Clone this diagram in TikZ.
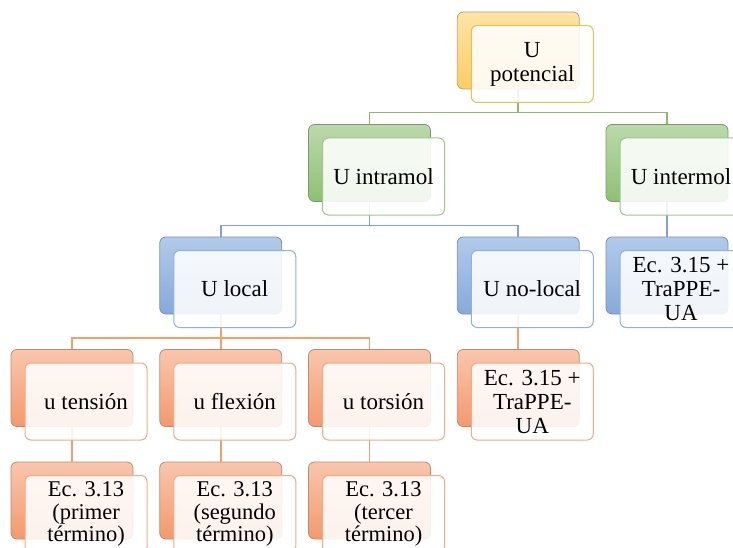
\documentclass[tikz,border=0pt]{standalone}
\usepackage{fontspec}
\setmainfont{Liberation Serif}
\definecolor{goldT}{HTML}{FFE3A6}
\definecolor{goldB}{HTML}{FFCC66}
\definecolor{goldE}{HTML}{B9A274}
\definecolor{goldF}{HTML}{E9C24E}
\definecolor{greenT}{HTML}{BCD9AC}
\definecolor{greenB}{HTML}{8DC173}
\definecolor{greenE}{HTML}{7C9873}
\definecolor{greenF}{HTML}{9DC889}
\definecolor{greenL}{HTML}{8DBB6C}
\definecolor{blueT}{HTML}{B2CAEA}
\definecolor{blueB}{HTML}{86AADB}
\definecolor{blueE}{HTML}{7D90AC}
\definecolor{blueF}{HTML}{8FB2DE}
\definecolor{blueL}{HTML}{7FA3D3}
\definecolor{orT}{HTML}{F9C6AD}
\definecolor{orB}{HTML}{F4996D}
\definecolor{orE}{HTML}{B98C7A}
\definecolor{orF}{HTML}{F4AA86}
\definecolor{orL}{HTML}{F2A06C}
\tikzset{
  backbox/.style={draw=#1E, line width=0.8pt, rounded corners=6pt,
    top color=#1T, bottom color=#1B, minimum width=122pt,
    minimum height=77pt, inner sep=0pt},
  frontbox/.style={draw=#1F, line width=1pt, rounded corners=6pt,
    fill=white, fill opacity=0.88, text opacity=1, text=black,
    minimum width=122pt, minimum height=77pt, inner sep=2pt,
    align=center, font=\fontsize{23}{24}\selectfont},
  tightbox/.style={frontbox=#1, font=\fontsize{22.5}{22.5}\selectfont},
  conn/.style={draw=#1, line width=1.6pt},
}
\begin{document}
\begin{tikzpicture}[x=1pt,y=-1pt]
\useasboundingbox (0,0) rectangle (733,548);
% back boxes
\node[backbox=gold]  (potb)   at (518.25,50.5) {};
\node[backbox=green] (intrab) at (369.5,163) {};
\node[backbox=green] (interb) at (667,163) {};
\node[backbox=blue]  (localb) at (220.75,275.5) {};
\node[backbox=blue]  (nolocb) at (518.25,275.5) {};
\node[backbox=blue]  (inteqb) at (667,275.5) {};
\node[backbox=or]    (tensb)  at (72,388) {};
\node[backbox=or]    (flexb)  at (220.75,388) {};
\node[backbox=or]    (torsb)  at (369.5,388) {};
\node[backbox=or]    (noleqb) at (518.25,388) {};
\node[backbox=or]    (ecab)   at (72,500.5) {};
\node[backbox=or]    (ecbb)   at (220.75,500.5) {};
\node[backbox=or]    (eccb)   at (369.5,500.5) {};
% bus levels
\coordinate (bus1) at (0,112.5);
\coordinate (bus2) at (0,225.5);
\coordinate (bus3) at (0,338);
% connectors
\draw[conn=greenL] (potb.south) -- (potb.south |- bus1) -| (intrab.north);
\draw[conn=greenL] (potb.south |- bus1) -| (interb.north);
\draw[conn=blueL] (intrab.south) -- (intrab.south |- bus2) -| (localb.north);
\draw[conn=blueL] (intrab.south |- bus2) -| (nolocb.north);
\draw[conn=blueL] (interb.south) -- (inteqb.north);
\draw[conn=orL] (localb.south) -- (localb.south |- bus3) -| (tensb.north);
\draw[conn=orL] (localb.south |- bus3) -| (flexb.north);
\draw[conn=orL] (localb.south |- bus3) -| (torsb.north);
\draw[conn=orL] (nolocb.south) -- (noleqb.north);
\draw[conn=orL] (tensb.south) -- (ecab.north);
\draw[conn=orL] (flexb.south) -- (ecbb.north);
\draw[conn=orL] (torsb.south) -- (eccb.north);
% front boxes
\node[frontbox=gold]  (pot)   at (532.25,64) {U\\potencial};
\node[frontbox=green] (intra) at (383.5,176.5) {U intramol};
\node[frontbox=green] (inter) at (681,176.5) {U intermol};
\node[frontbox=blue]  (local) at (234.75,289) {U local};
\node[frontbox=blue]  (noloc) at (532.25,289) {U no-local};
\node[frontbox=blue]  (inteq) at (681,289) {Ec. 3.15 +\\TraPPE-\\UA};
\node[frontbox=or]    (tens)  at (86,401.5) {u tensión};
\node[frontbox=or]    (flex)  at (234.75,401.5) {u flexión};
\node[frontbox=or]    (tors)  at (383.5,401.5) {u torsión};
\node[frontbox=or]    (noleq) at (532.25,401.5) {Ec. 3.15 +\\TraPPE-\\UA};
\node[tightbox=or]    (eca)   at (86,514) {Ec. 3.13\\(primer\\término)};
\node[tightbox=or]    (ecb)   at (234.75,514) {Ec. 3.13\\(segundo\\término)};
\node[tightbox=or]    (ecc)   at (383.5,514) {Ec. 3.13\\(tercer\\término)};
\end{tikzpicture}
\end{document}
